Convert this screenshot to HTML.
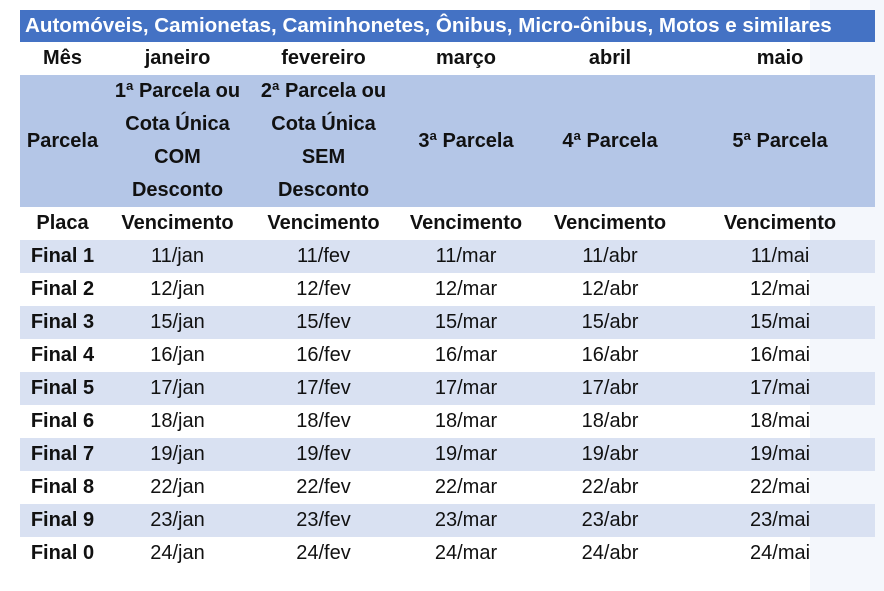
<!DOCTYPE html>
<html><head><meta charset="utf-8"><style>
body{margin:0;width:884px;height:591px;background:#fff;position:relative;overflow:hidden;font-family:"Liberation Sans",sans-serif;}
.side{position:absolute;left:810px;top:0;width:74px;height:591px;background:#f4f7fc;}
table{position:absolute;left:20px;top:10px;border-collapse:collapse;width:855px;table-layout:fixed;color:#111;}
td{text-align:center;padding:0;font-size:20px;height:33px;line-height:33px;white-space:nowrap;}
.t td{background:#4472c4;color:#fff;font-weight:bold;text-align:left;padding-left:5px;height:32px;line-height:32px;font-size:20.6px;}
.b td{font-weight:bold;}
.p td{background:#b4c6e7;font-weight:bold;height:132px;line-height:33px;}
.s td{background:#d9e1f2;}
td.f{font-weight:bold;}
</style></head><body>
<div class="side"></div>
<table>
<col style="width:85px"><col style="width:145px"><col style="width:147px"><col style="width:138px"><col style="width:150px"><col style="width:190px">
<tr class="t"><td colspan="6">Automóveis, Camionetas, Caminhonetes, Ônibus, Micro-ônibus, Motos e similares</td></tr>
<tr class="b"><td>Mês</td><td>janeiro</td><td>fevereiro</td><td>março</td><td>abril</td><td>maio</td></tr>
<tr class="p"><td>Parcela</td><td>1ª Parcela ou<br>Cota Única<br>COM<br>Desconto</td><td>2ª Parcela ou<br>Cota Única<br>SEM<br>Desconto</td><td>3ª Parcela</td><td>4ª Parcela</td><td>5ª Parcela</td></tr>
<tr class="b"><td>Placa</td><td>Vencimento</td><td>Vencimento</td><td>Vencimento</td><td>Vencimento</td><td>Vencimento</td></tr>
<tr class="s"><td class="f">Final 1</td><td>11/jan</td><td>11/fev</td><td>11/mar</td><td>11/abr</td><td>11/mai</td></tr>
<tr><td class="f">Final 2</td><td>12/jan</td><td>12/fev</td><td>12/mar</td><td>12/abr</td><td>12/mai</td></tr>
<tr class="s"><td class="f">Final 3</td><td>15/jan</td><td>15/fev</td><td>15/mar</td><td>15/abr</td><td>15/mai</td></tr>
<tr><td class="f">Final 4</td><td>16/jan</td><td>16/fev</td><td>16/mar</td><td>16/abr</td><td>16/mai</td></tr>
<tr class="s"><td class="f">Final 5</td><td>17/jan</td><td>17/fev</td><td>17/mar</td><td>17/abr</td><td>17/mai</td></tr>
<tr><td class="f">Final 6</td><td>18/jan</td><td>18/fev</td><td>18/mar</td><td>18/abr</td><td>18/mai</td></tr>
<tr class="s"><td class="f">Final 7</td><td>19/jan</td><td>19/fev</td><td>19/mar</td><td>19/abr</td><td>19/mai</td></tr>
<tr><td class="f">Final 8</td><td>22/jan</td><td>22/fev</td><td>22/mar</td><td>22/abr</td><td>22/mai</td></tr>
<tr class="s"><td class="f">Final 9</td><td>23/jan</td><td>23/fev</td><td>23/mar</td><td>23/abr</td><td>23/mai</td></tr>
<tr><td class="f">Final 0</td><td>24/jan</td><td>24/fev</td><td>24/mar</td><td>24/abr</td><td>24/mai</td></tr>
</table>
</body></html>
